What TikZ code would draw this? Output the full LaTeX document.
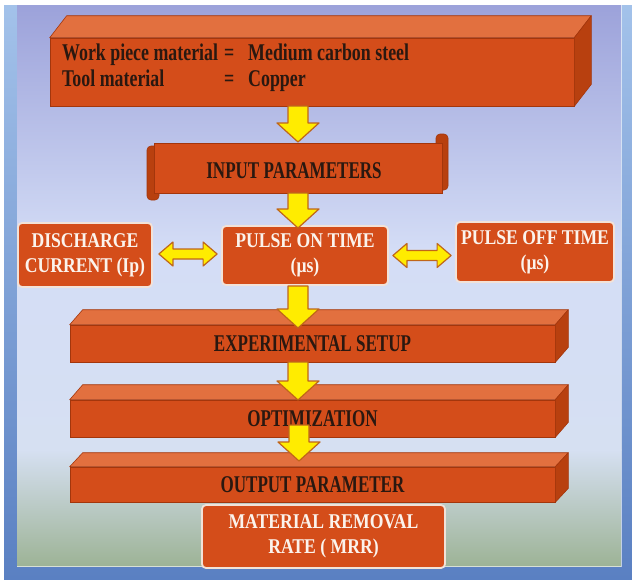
\documentclass[tikz,border=0pt]{standalone}
\usepackage{fontspec}
\setmainfont{Liberation Serif}
\newfontfamily\darkfont[FakeStretch=0.71]{Liberation Serif}
\newfontfamily\topfont[FakeStretch=0.745]{Liberation Serif}
\newfontfamily\lightfont[FakeStretch=0.84]{Liberation Serif}
\usetikzlibrary{calc}
\definecolor{front}{HTML}{D44D1A}
\definecolor{topor}{HTML}{E2703F}
\definecolor{sideor}{HTML}{B8400F}
\definecolor{edgeor}{HTML}{A3360C}
\definecolor{darktxt}{HTML}{2A1810}
\definecolor{lighttxt}{HTML}{FBF3EC}
\definecolor{boxrim}{HTML}{F2E2D8}
\definecolor{ayellow}{HTML}{FFEC00}
\definecolor{aedge}{HTML}{C0661A}
\definecolor{bluetop}{HTML}{A3C2EA}
\definecolor{bluebot}{HTML}{5A80C2}
\definecolor{panTop}{HTML}{9CA2DA}
\definecolor{panMid}{HTML}{D4DDF6}
\definecolor{panMid2}{HTML}{D6E0F2}
\definecolor{panBot}{HTML}{9DB396}
\tikzset{
  yarrow/.style={fill=ayellow, draw=aedge, line width=1.2pt, line join=round},
  frontface/.style={fill=front, draw=edgeor, line width=0.6pt, inner sep=0pt},
  topface/.style={fill=topor, draw=edgeor, line width=0.6pt, line join=round},
  sideface/.style={fill=sideor, draw=edgeor, line width=0.6pt, line join=round},
  darktext/.style={text=darktxt, font=\darkfont\bfseries\fontsize{24}{26}\selectfont},
  toptext/.style={text=darktxt, font=\topfont\bfseries\fontsize{24}{26}\selectfont, anchor=base west, inner sep=0pt},
  roundbox/.style={fill=front, draw=boxrim, line width=1.8pt, rounded corners=4pt,
    text=lighttxt, font=\lightfont\bfseries\fontsize{21}{25}\selectfont, align=center, inner sep=0pt},
  rollpart/.style={fill=sideor, draw=edgeor, line width=0.6pt, rounded corners=4pt}
}
\newcommand\slab[3]{%
  \path[topface] (#1.north west) -- ++(#2,#3) -- ($(#1.north east)+(#2,#3)$) -- (#1.north east) -- cycle;
  \path[sideface] (#1.north east) -- ++(#2,#3) -- ($(#1.south east)+(#2,#3)$) -- (#1.south east) -- cycle;}
\newcommand\varrow[2]{%
  \path[yarrow] let \p1=(#1), \p2=(#2) in
    (\x1-10pt,\y1) -- (\x1+10pt,\y1) -- (\x1+10pt,\y2+19pt) -- (\x1+21pt,\y2+19pt)
    -- (\x1,\y2) -- (\x1-21pt,\y2+19pt) -- (\x1-10pt,\y2+19pt) -- cycle;}
\newcommand\harrow[2]{%
  \path[yarrow] let \p1=(#1), \p2=(#2) in
    (\x1,\y1) -- (\x1+14pt,\y1+12pt) -- (\x1+14pt,\y1+5pt) -- (\x2-14pt,\y1+5pt)
    -- (\x2-14pt,\y1+12pt) -- (\x2,\y1) -- (\x2-14pt,\y1-12pt) -- (\x2-14pt,\y1-5pt)
    -- (\x1+14pt,\y1-5pt) -- (\x1+14pt,\y1-12pt) -- cycle;}
\begin{document}
\begin{tikzpicture}[x=1pt,y=-1pt]
\useasboundingbox (0,0) rectangle (632,579);
\fill[white] (0,0) rectangle (632,579);
% frame and panel
\shade[top color=bluetop, bottom color=bluebot] (4,5) rectangle (632,579);
\shade[top color=panTop, bottom color=panMid] (17,5) rectangle (621,250);
\shade[top color=panMid, bottom color=panMid2] (17,249.5) rectangle (621,450);
\shade[top color=panMid2, bottom color=panBot] (17,449.5) rectangle (621,566);
\draw[white, opacity=0.6, line width=1pt] (17,566) -- (621,566) -- (621,5);

% top box
\node[frontface, minimum width=524pt, minimum height=68pt] (top) at (312,72) {};
\slab{top}{17}{-22}
\node[toptext] (w1) at (62,60) {Work piece material};
\node[toptext] (e1) at (224,60) {=};
\node[toptext] (m1) at (248,60) {Medium carbon steel};
\node[toptext] (w2) at (62,86) {Tool material};
\node[toptext] (e2) at (224,86) {=};
\node[toptext] (m2) at (248,86) {Copper};

% input parameters scroll
\path[rollpart] (147,146) rectangle (159,200);
\path[rollpart] (436,134) rectangle (448,190);
\node[frontface, minimum width=288pt, minimum height=50pt] (inp) at (298,168) {};
\node[darktext] (inpt) at (294,171) {INPUT PARAMETERS};

% middle row
\node[roundbox, minimum width=134pt, minimum height=64pt] (dis) at (85,255) {DISCHARGE\\CURRENT (Ip)};
\node[roundbox, minimum width=166pt, minimum height=59pt] (pon) at (305,255.5) {PULSE ON TIME\\(μs)};
\node[roundbox, minimum width=158pt, minimum height=60pt] (poff) at (535,252) {PULSE OFF TIME\\(μs)};

% lower slabs
\node[frontface, darktext, minimum width=485pt, minimum height=37pt] (exp) at (312.5,343.5) {EXPERIMENTAL SETUP};
\slab{exp}{13}{-15}
\node[frontface, darktext, minimum width=485pt, minimum height=37pt] (opt) at (312.5,418.5) {OPTIMIZATION};
\slab{opt}{13}{-15}
\node[frontface, darktext, minimum width=485pt, minimum height=35pt] (out) at (312.5,484.5) {OUTPUT PARAMETER};
\slab{out}{13}{-14}
\node[roundbox, minimum width=243pt, minimum height=63pt] (mrr) at (323.5,536.5) {MATERIAL REMOVAL\\RATE ( MRR)};

% arrows
\coordinate (a1s) at (298,106); \coordinate (a1e) at (298,142);
\coordinate (a2s) at (298,193); \coordinate (a2e) at (298,228);
\coordinate (a3s) at (298,286); \coordinate (a3e) at (298,328);
\coordinate (a4s) at (298,362); \coordinate (a4e) at (298,400);
\coordinate (a5s) at (299,425); \coordinate (a5e) at (299,461);
\varrow{a1s}{a1e}
\varrow{a2s}{a2e}
\varrow{a3s}{a3e}
\varrow{a4s}{a4e}
\varrow{a5s}{a5e}
\harrow{$(dis.east)+(6,-1)$}{$(pon.west)+(-4,0)$}
\harrow{$(pon.east)+(4,0)$}{$(poff.west)+(-4,0)$}
\end{tikzpicture}
\end{document}
